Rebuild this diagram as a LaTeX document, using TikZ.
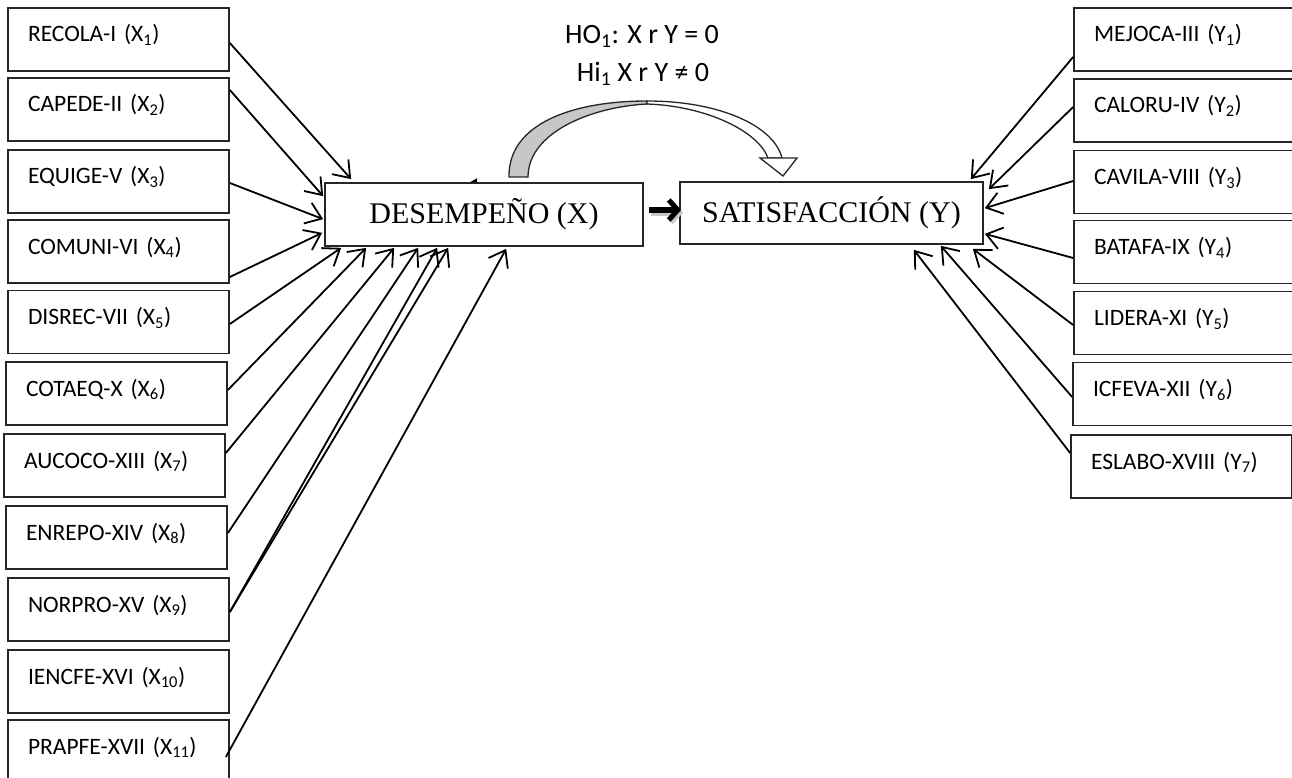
\documentclass[tikz,border=0pt]{standalone}
\usepackage{fontspec}
\setmainfont{Carlito}
\newfontfamily\tnr{Liberation Serif}
\usetikzlibrary{arrows.meta,calc}
\begin{document}
\begin{tikzpicture}[x=1pt,y=-1pt,
  box/.style={draw=black!85, line width=1.7pt, minimum width=221pt, minimum height=63pt,
    inner xsep=20pt, inner ysep=0pt, text width=181pt, align=left, text height=17pt, text depth=12pt,
    font=\fontsize{23.5}{27}\selectfont},
  cbox/.style={draw=black!85, line width=1.7pt, inner sep=0pt, font=\tnr\fontsize{30}{34}\selectfont},
  hyp/.style={font=\fontsize{28}{32}\selectfont, inner sep=0pt},
  arr/.style={line width=1.8pt, -{Straight Barb[length=15pt,width=22pt,line width=1.8pt]}},
  bigarr/.style={line width=6pt, -{Straight Barb[length=9pt,width=20pt,line width=5pt]}},
]
\clip (0,0) rectangle (1292,778);
\fill[white] (0,0) rectangle (1292,778);

% left boxes
\node[box] (x1) at (118.5,39.5) {RECOLA-I (X\textsubscript{1})};
\node[box] (x2) at (118.5,109.5) {CAPEDE-II (X\textsubscript{2})};
\node[box] (x3) at (118.5,181.5) {EQUIGE-V (X\textsubscript{3})};
\node[box] (x4) at (118.5,251.5) {COMUNI-VI (X\textsubscript{4})};
\node[box] (x5) at (118.5,322) {DISREC-VII (X\textsubscript{5})};
\node[box] (x6) at (116.5,393.5) {COTAEQ-X (X\textsubscript{6})};
\node[box] (x7) at (114.5,465.5) {AUCOCO-XIII (X\textsubscript{7})};
\node[box] (x8) at (116.5,537.5) {ENREPO-XIV (X\textsubscript{8})};
\node[box] (x9) at (118.5,609.5) {NORPRO-XV (X\textsubscript{9})};
\node[box] (x10) at (118.5,681.5) {IENCFE-XVI (X\textsubscript{10})};
\node[box] (x11) at (118.5,751.5) {PRAPFE-XVII (X\textsubscript{11})};

% right boxes
\node[box] (y1) at (1184.5,39.5) {MEJOCA-III (Y\textsubscript{1})};
\node[box] (y2) at (1184.5,110.5) {CALORU-IV (Y\textsubscript{2})};
\node[box] (y3) at (1184.5,182) {CAVILA-VIII (Y\textsubscript{3})};
\node[box] (y4) at (1184.5,252) {BATAFA-IX (Y\textsubscript{4})};
\node[box] (y5) at (1184.5,323) {LIDERA-XI (Y\textsubscript{5})};
\node[box] (y6) at (1183.5,394) {ICFEVA-XII (Y\textsubscript{6})};
\node[box] (y7) at (1181.5,466.5) {ESLABO-XVIII (Y\textsubscript{7})};

% central boxes
\node[cbox, minimum width=318pt, minimum height=63pt] (des) at (484,214.5) {DESEMPEÑO (X)};
\node[cbox, minimum width=303pt, minimum height=62pt] (sat) at (831.5,213) {SATISFACCIÓN (Y)};

% hypotheses
\node[hyp] (h0) at (642,36) {HO\textsubscript{1}: X r Y = 0};
\node[hyp] (h1) at (643,74) {Hi\textsubscript{1} X r Y ≠ 0};

% left arrows
\draw[arr] ([yshift=-3.5pt]x1.east) -- ([xshift=27pt,yshift=3pt]des.north west);
\draw[arr] ([yshift=19.5pt]x2.east) -- ([xshift=-1pt,yshift=-14pt]des.north west);
\draw[arr] ([yshift=-1.5pt]x3.east) -- ([xshift=-1pt,yshift=-37pt]des.north west);
\draw[arr] ([yshift=-25.5pt]x4.east) -- ([xshift=-2pt,yshift=14pt]des.south west);
\draw[arr] ([yshift=-2pt]x5.east) -- ([xshift=17pt,yshift=-1pt]des.south west);
\draw[arr] ([yshift=3.5pt]x6.east) -- ([xshift=42pt,yshift=-1pt]des.south west);
\draw[arr] ([yshift=12.5pt]x7.east) -- ([xshift=70pt,yshift=-1pt]des.south west);
\draw[arr] ([yshift=4.5pt]x8.east) -- ([xshift=94pt,yshift=-1pt]des.south west);
\draw[arr] ([yshift=-2.5pt]x9.east) -- ([xshift=113pt,yshift=-1pt]des.south west);
\draw[arr] ([yshift=-2.5pt]x9.east) -- ([xshift=124pt,yshift=-1pt]des.south west);
\draw[arr] ([xshift=-4pt,yshift=-5.5pt]x11.east) -- ([xshift=182pt,yshift=-2pt]des.south west);

% right arrows
\draw[arr] ([yshift=-17.5pt]y1.west) -- ([xshift=-13pt,yshift=2pt]sat.north east);
\draw[arr] ([yshift=3.5pt]y2.west) -- ([xshift=5pt,yshift=-8pt]sat.north east);
\draw[arr] ([yshift=1pt]y3.west) -- ([xshift=1pt,yshift=-27pt]sat.north east);
\draw[arr] ([yshift=-6pt]y4.west) -- ([xshift=1pt,yshift=11pt]sat.south east);
\draw[arr] ([yshift=-2pt]y5.west) -- ([xshift=-11pt,yshift=-4pt]sat.south east);
\draw[arr] ([yshift=-3pt]y6.west) -- ([xshift=-43pt,yshift=-1pt]sat.south east);
\draw[arr] ([yshift=13.5pt]y7.west) -- ([xshift=-70pt,yshift=-5pt]sat.south east);

% thick arrow with shadow
\draw[bigarr, black!22] ([xshift=7pt,yshift=2pt]des.east) -- ([xshift=4pt,yshift=0.5pt]sat.west);
\draw[bigarr] ([xshift=5pt,yshift=4.5pt]des.east) -- ([xshift=2pt,yshift=3pt]sat.west);

% small mark on top of DESEMPEÑO
\fill ([xshift=146pt]des.north west) -- ([xshift=153pt]des.north west) -- ([xshift=153pt,yshift=4pt]des.north west) -- cycle;

% curved arrow
\coordinate (ca) at (509,177);
\coordinate (cb) at (528,177);
\coordinate (cp) at (647,101);
\coordinate (cq) at (647,104);
\filldraw[fill=black!22, draw=black!85, line width=1.3pt]
  (ca) .. controls (508,124) and (572,101) .. (cp)
  -- (cq) .. controls (590,107) and (528,133) .. (cb) -- cycle;
\filldraw[fill=white, draw=black!85, line width=1.3pt]
  (cp) .. controls (720,101) and (774,126) .. (782,158)
  -- (768,158) .. controls (758,131) and (706,106) .. (cq) -- cycle;
\filldraw[fill=white, draw=black!85, line width=1.3pt]
  (760,158) -- (783,176) -- (797,158) -- cycle;
\end{tikzpicture}
\end{document}
